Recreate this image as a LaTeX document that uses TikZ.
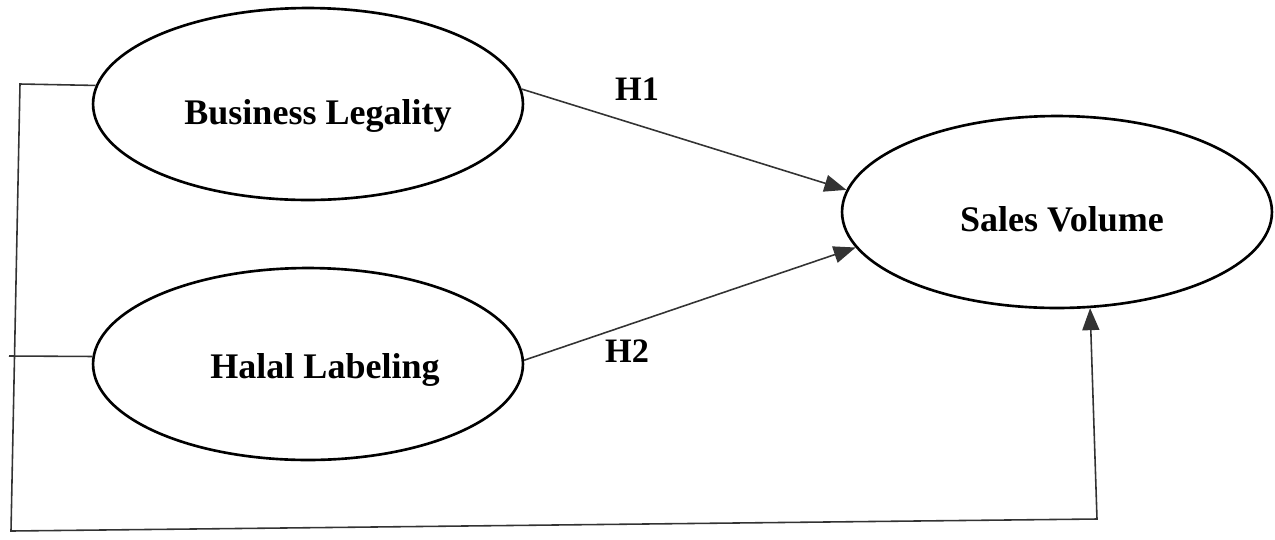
\documentclass[tikz,border=0pt]{standalone}
\usepackage{fontspec}
\setmainfont{Liberation Serif}
\usetikzlibrary{shapes.geometric,arrows.meta}
\begin{document}
\begin{tikzpicture}[x=0.02cm,y=-0.02cm,
  var/.style={draw,ellipse,line width=1.5pt,minimum width=8.6cm,minimum height=3.84cm,inner sep=0pt},
  vtext/.style={font=\fontsize{20.5}{24}\selectfont\bfseries},
  hyp/.style={font=\fontsize{19.5}{23}\selectfont\bfseries},
  link/.style={draw=black!80,line width=0.9pt},
  arr/.style={link,-{Triangle[length=0.44cm,width=0.34cm]}}]
\useasboundingbox (0,0) rectangle (1275,539);
\node[var,label={[vtext,xshift=0.2cm,yshift=-0.24cm]center:Business Legality}] (legal) at (308,104) {};
\node[var,label={[vtext,xshift=0.34cm,yshift=-0.12cm]center:Halal Labeling}] (halal) at (308,364) {};
\node[var,label={[vtext,xshift=0.1cm,yshift=-0.14cm]center:Sales Volume}] (sales) at (1057,212) {};
\node[hyp] (h1) at (637,89) {H1};
\node[hyp] (h2) at (627,351) {H2};
\draw[arr] (legal.4) -- (sales.174);
\draw[arr] (halal.1) -- (sales.190);
% left bracket back to sales
\coordinate (topleft) at (20,84);
\coordinate (botleft) at (11,531);
\coordinate (botright) at (1097,519);
\coordinate (halalend) at (9,356);
\draw[link] (halal.178) -- (halalend);
\draw[arr] (legal.175) -- (topleft) -- (botleft) -- (botright) -- (sales.-71);
\end{tikzpicture}
\end{document}
